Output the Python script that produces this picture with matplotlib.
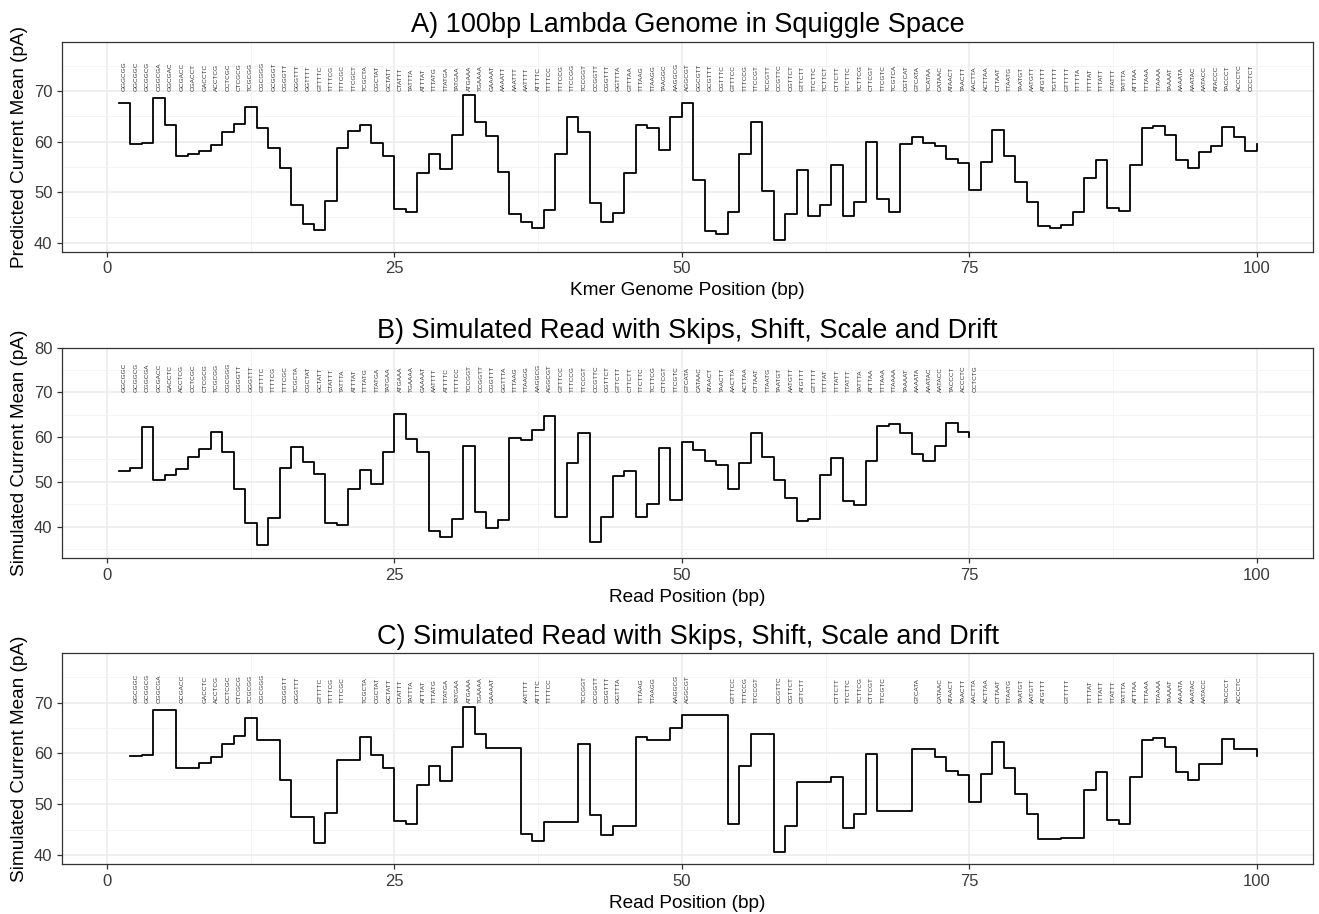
import matplotlib
matplotlib.use('Agg')
import matplotlib.pyplot as plt
from matplotlib.ticker import MultipleLocator

plt.rcParams['font.family'] = ['Liberation Sans', 'DejaVu Sans']

# first bases of the lambda genome, kmers of length 6 are read from it
genome = ("GGGCGGCGACCTCGCGGGTTTTCGCTATTTATGAAAATTTTCCGGTTTAA"
          "GGCGTTTCCGTTCTTCTTCGTCATAACTTAATGTTTTTATTTAAAATACCCTCTG")
kmer_len = 6

# A) predicted current for each genome position 1..100
genome_mean = [67.7, 59.5, 59.7, 68.6, 63.2, 57.2, 57.6, 58.2, 59.3, 61.8,
               63.4, 66.9, 62.6, 58.8, 54.7, 47.4, 43.7, 42.4, 48.3, 58.8,
               62.1, 63.2, 59.7, 57.2, 46.7, 46.1, 53.8, 57.6, 54.6, 61.3,
               69.2, 63.9, 61.0, 54.0, 45.7, 44.1, 42.8, 46.5, 57.5, 64.9,
               61.9, 47.8, 44.0, 45.8, 53.8, 63.2, 62.7, 58.3, 64.9, 67.6,
               52.4, 42.2, 41.7, 46.1, 57.5, 63.8, 50.3, 40.6, 45.7, 54.4,
               45.3, 47.5, 55.4, 45.3, 48.1, 59.9, 48.6, 46.1, 59.5, 60.9,
               59.8, 59.2, 56.6, 55.7, 50.5, 55.9, 62.2, 57.1, 52.0, 48.1,
               43.2, 42.9, 43.4, 46.0, 52.8, 56.4, 46.9, 46.2, 55.4, 62.6,
               63.1, 61.3, 56.3, 54.7, 57.9, 59.1, 62.8, 60.8, 58.2, 59.5]

# genome positions of the kmers that made it into the simulated read
read_genome_pos = [2, 3, 4, 6, 8, 9, 10, 11, 12, 13, 15, 16, 18, 19, 20, 22, 23,
                   24, 25, 26, 27, 28, 29, 30, 31, 32, 33, 36, 37, 38, 41, 42,
                   43, 44, 46, 47, 49, 50, 54, 55, 56, 58, 59, 60, 63, 64, 65,
                   66, 67, 70, 72, 73, 74, 75, 76, 77, 78, 79, 80, 81, 83, 85,
                   86, 87, 88, 89, 90, 91, 92, 93, 94, 95, 97, 98, 100]

# B) simulated current of the read (shift, scale and drift applied)
read_mean = [52.5, 53.0, 62.3, 50.4, 51.6, 52.9, 55.6, 57.4, 61.1, 56.6,
             48.4, 40.9, 35.9, 41.9, 53.1, 57.7, 54.4, 51.8, 40.7, 40.3,
             48.4, 52.7, 49.5, 56.6, 65.1, 59.6, 56.6, 39.0, 37.7, 41.6,
             58.0, 43.3, 39.6, 41.5, 59.8, 59.4, 61.7, 64.8, 42.2, 54.3,
             61.0, 36.6, 42.2, 51.3, 52.5, 42.1, 45.0, 57.5, 45.9, 58.8,
             57.1, 54.6, 53.7, 48.4, 54.2, 60.9, 55.5, 50.3, 46.3, 41.3,
             41.6, 51.5, 55.4, 45.7, 44.8, 54.7, 62.5, 62.9, 61.0, 56.2,
             54.6, 58.0, 63.1, 61.1, 60.1]


def kmer(p):
    return genome[p - 1:p - 1 + kmer_len]


def style(ax, title, xlabel, ylabel, ylim, yticks):
    ax.set_xlim(-3.9, 104.9)
    ax.set_ylim(*ylim)
    ax.set_xticks([0, 25, 50, 75, 100])
    ax.xaxis.set_minor_locator(MultipleLocator(12.5))
    ax.set_yticks(yticks)
    ax.yaxis.set_minor_locator(MultipleLocator(5))
    ax.grid(which='major', color='#EBEBEB', lw=1.1)
    ax.grid(which='minor', color='#F2F2F2', lw=0.6)
    ax.set_axisbelow(True)
    for s in ax.spines.values():
        s.set_color('#333333')
        s.set_linewidth(0.9)
    ax.tick_params(which='major', length=3.5, width=0.9, color='#333333',
                   labelsize=12, labelcolor='#3A3A3A', pad=3.5)
    ax.tick_params(which='minor', length=0)
    ax.set_title(title, fontsize=19.5, pad=7)
    ax.set_xlabel(xlabel, fontsize=13.7, labelpad=4)
    ax.set_ylabel(ylabel, fontsize=13.7, labelpad=4)


fig = plt.figure(figsize=(13.19, 9.14), dpi=100)
left, width = 0.0472, 0.9482
ax_a = fig.add_axes([left, 0.7246, width, 0.2298])
ax_b = fig.add_axes([left, 0.3892, width, 0.2304])
ax_c = fig.add_axes([left, 0.0544, width, 0.2309])

# A) genome
pos_a = list(range(1, len(genome_mean) + 1))
ax_a.step(pos_a, genome_mean, where='post', color='black', lw=1.3)
for p in pos_a[:-1]:
    ax_a.text(p + 0.5, 70, kmer(p), rotation=90, ha='center', va='bottom',
              fontsize=4.6, color='#333333')
style(ax_a, 'A) 100bp Lambda Genome in Squiggle Space',
      'Kmer Genome Position (bp)', 'Predicted Current Mean (pA)',
      (38.2, 79.75), [40, 50, 60, 70])

# B) read in read coordinates
pos_b = list(range(1, len(read_mean) + 1))
ax_b.step(pos_b, read_mean, where='post', color='black', lw=1.3)
for i, p in zip(pos_b, read_genome_pos):
    ax_b.text(i + 0.5, 70, kmer(p), rotation=90, ha='center', va='bottom',
              fontsize=4.6, color='#333333')
style(ax_b, 'B) Simulated Read with Skips, Shift, Scale and Drift',
      'Read Position (bp)', 'Simulated Current Mean (pA)',
      (32.9, 80.0), [40, 50, 60, 70, 80])

# C) read kmers placed back on the genome
c_mean = [genome_mean[p - 1] for p in read_genome_pos]
ax_c.step(read_genome_pos, c_mean, where='post', color='black', lw=1.3)
for p in read_genome_pos[:-1]:
    ax_c.text(p + 0.5, 70, kmer(p), rotation=90, ha='center', va='bottom',
              fontsize=4.6, color='#333333')
style(ax_c, 'C) Simulated Read with Skips, Shift, Scale and Drift',
      'Read Position (bp)', 'Simulated Current Mean (pA)',
      (38.2, 79.7), [40, 50, 60, 70])

fig.savefig('out.png', dpi=100)
